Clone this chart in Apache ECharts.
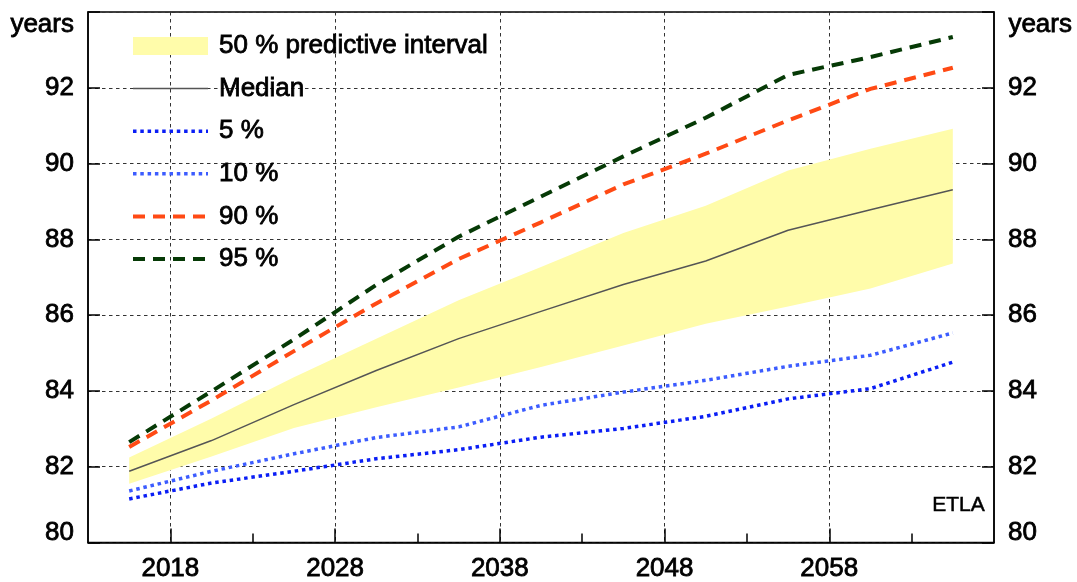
<!DOCTYPE html>
<html>
<head>
<meta charset="utf-8">
<script src="https://cdn.jsdelivr.net/npm/echarts@6/dist/echarts.min.js"></script>
<style>
  html, body { margin: 0; padding: 0; background: #fff; }
  #chart { width: 1077px; height: 582px; }
</style>
</head>
<body>
<div id="chart"></div>
<script>
// Projection years (mid-year points, five-year steps)
const years = [2015.5, 2020.5, 2025.5, 2030.5, 2035.5, 2040.5, 2045.5, 2050.5, 2055.5, 2060.5, 2065.5];

// Life expectancy percentiles, years
const median = [81.88, 82.69, 83.64, 84.54, 85.38, 86.10, 86.81, 87.43, 88.24, 88.78, 89.31];
const p25 = [81.55, 82.27, 83.02, 83.57, 84.09, 84.63, 85.20, 85.77, 86.23, 86.70, 87.36];
const p75 = [82.24, 83.27, 84.36, 85.38, 86.39, 87.27, 88.17, 88.89, 89.82, 90.39, 90.92];
const p5 = [81.15, 81.57, 81.88, 82.21, 82.45, 82.78, 83.01, 83.33, 83.79, 84.06, 84.76];
const p10 = [81.36, 81.88, 82.34, 82.77, 83.05, 83.62, 83.97, 84.28, 84.65, 84.94, 85.53];
const p90 = [82.52, 83.75, 85.05, 86.31, 87.48, 88.45, 89.45, 90.26, 91.14, 91.97, 92.53];
const p95 = [82.65, 83.99, 85.36, 86.80, 88.07, 89.13, 90.19, 91.21, 92.34, 92.81, 93.34];

// Axis ticks
const xMajorTicks = [2018, 2028, 2038, 2048, 2058];
const xMinorTicks = [2023, 2033, 2043, 2053, 2063];
const yTicks = [80, 82, 84, 86, 88, 90, 92];

const FONT = "'Liberation Sans', Arial, sans-serif";
const pairs = (vals) => years.map((x, i) => [x, vals[i]]);

const C = {
  band: '#FFFCAA',
  median: '#555555',
  p5: '#0A1EF5',
  p10: '#3C5CFF',
  p90: '#FF4A14',
  p95: '#063A06'
};
const DOT = [3.5, 3.8];
const DASH = [12, 8];
// slight stroke to give the text a heavier look
const HEAVY = { textBorderColor: '#000', textBorderWidth: 0.8 };

const chart = echarts.init(document.getElementById('chart'), null, { renderer: 'canvas' });

const lineSeries = (name, vals, color, width, type) => ({
  name, type: 'line', data: pairs(vals), xAxisIndex: 0, yAxisIndex: 0,
  symbol: 'none', showSymbol: false, silent: true, color,
  lineStyle: { color, width, type, cap: 'butt' },
  z: 3
});

const legendLine = (name, color, width, type) => ({
  name, lineStyle: { width, color, type, cap: 'butt' }, itemStyle: { opacity: 0 }
});

// Band between the 25th and 75th percentiles as one polygon
function renderBand(params, api) {
  if (params.dataIndex !== 0) return null;
  const upper = years.map((x, i) => api.coord([x, p75[i]]));
  const lower = years.map((x, i) => api.coord([x, p25[i]])).reverse();
  return {
    type: 'polygon',
    shape: { points: upper.concat(lower) },
    style: { fill: C.band, stroke: null }
  };
}

const yLabel = {
  customValues: yTicks, fontSize: 26, color: '#000', margin: 14, fontFamily: FONT, ...HEAVY,
  formatter: (v) => (v === yTicks[0] ? '{lo|' + v + '}' : String(v)),
  rich: { lo: { fontSize: 26, fontFamily: FONT, color: '#000', padding: [0, 0, 20, 0], ...HEAVY } }
};

const textStyleGraphic = (size, w) => ({ fontSize: size, fontFamily: FONT, fill: '#000', stroke: '#000', lineWidth: w });

chart.setOption({
  animation: false,
  textStyle: { fontFamily: FONT },
  grid: {
    left: 88, right: 83, top: 12, bottom: 39.5,
    show: true, borderColor: '#000', borderWidth: 1.5, backgroundColor: 'transparent'
  },
  legend: {
    orient: 'vertical', left: 126, top: 26, itemWidth: 75, itemHeight: 18, itemGap: 12.6,
    padding: 5, selectedMode: false,
    textStyle: { fontSize: 26, color: '#000', fontFamily: FONT, lineHeight: 30, padding: [0, 0, 0, 6], ...HEAVY },
    data: [
      { name: '50 % predictive interval', icon: 'rect', itemStyle: { color: C.band } },
      legendLine('Median', C.median, 1.5, 'solid'),
      legendLine('5 %', C.p5, 3.5, DOT),
      legendLine('10 %', C.p10, 3.5, DOT),
      legendLine('90 %', C.p90, 4, DASH),
      legendLine('95 %', C.p95, 4, DASH)
    ]
  },
  xAxis: [
    {
      type: 'value', min: 2013, max: 2068, position: 'bottom',
      axisLine: { show: true, lineStyle: { color: '#000', width: 1.5 } },
      axisTick: { show: true, inside: true, length: 14, customValues: xMajorTicks, lineStyle: { color: '#000', width: 1.5 } },
      axisLabel: { customValues: xMajorTicks, fontSize: 26, color: '#000', margin: 13, fontFamily: FONT, ...HEAVY,
        formatter: (v) => String(v) },
      splitLine: { show: true, lineStyle: { color: '#333', width: 1, type: [3.5, 3.5] } }
    },
    {
      type: 'value', min: 2013, max: 2068, position: 'bottom',
      axisLine: { show: false },
      axisTick: { show: true, inside: true, length: 9, customValues: xMinorTicks, lineStyle: { color: '#000', width: 1.5 } },
      axisLabel: { show: false },
      splitLine: { show: false }
    }
  ],
  yAxis: [
    {
      type: 'value', min: 80, max: 94, interval: 2, position: 'left',
      axisLine: { show: true, lineStyle: { color: '#000', width: 1.5 } },
      axisTick: { show: true, inside: true, length: 12, lineStyle: { color: '#000', width: 1.5 } },
      axisLabel: yLabel,
      splitLine: { show: true, lineStyle: { color: '#333', width: 1, type: [3.5, 3.5] } }
    },
    {
      type: 'value', min: 80, max: 94, interval: 2, position: 'right',
      axisLine: { show: true, lineStyle: { color: '#000', width: 1.5 } },
      axisTick: { show: true, inside: true, length: 12, lineStyle: { color: '#000', width: 1.5 } },
      axisLabel: yLabel,
      splitLine: { show: false }
    }
  ],
  graphic: [
    { type: 'text', left: 10, top: 11, style: { text: 'years', ...textStyleGraphic(26, 0.8) } },
    { type: 'text', left: 1008, top: 11, style: { text: 'years', ...textStyleGraphic(26, 0.8) } },
    { type: 'text', right: 92, top: 494, style: { text: 'ETLA', ...textStyleGraphic(21, 0.5) } }
  ],
  series: [
    {
      name: '50 % predictive interval', type: 'custom', data: pairs(median),
      xAxisIndex: 0, yAxisIndex: 0, silent: true, clip: true,
      itemStyle: { color: C.band }, renderItem: renderBand, z: 2
    },
    lineSeries('Median', median, C.median, 1.5, 'solid'),
    lineSeries('5 %', p5, C.p5, 3.5, DOT),
    lineSeries('10 %', p10, C.p10, 3.5, DOT),
    lineSeries('90 %', p90, C.p90, 4, DASH),
    lineSeries('95 %', p95, C.p95, 4, DASH)
  ]
});
</script>
</body>
</html>
